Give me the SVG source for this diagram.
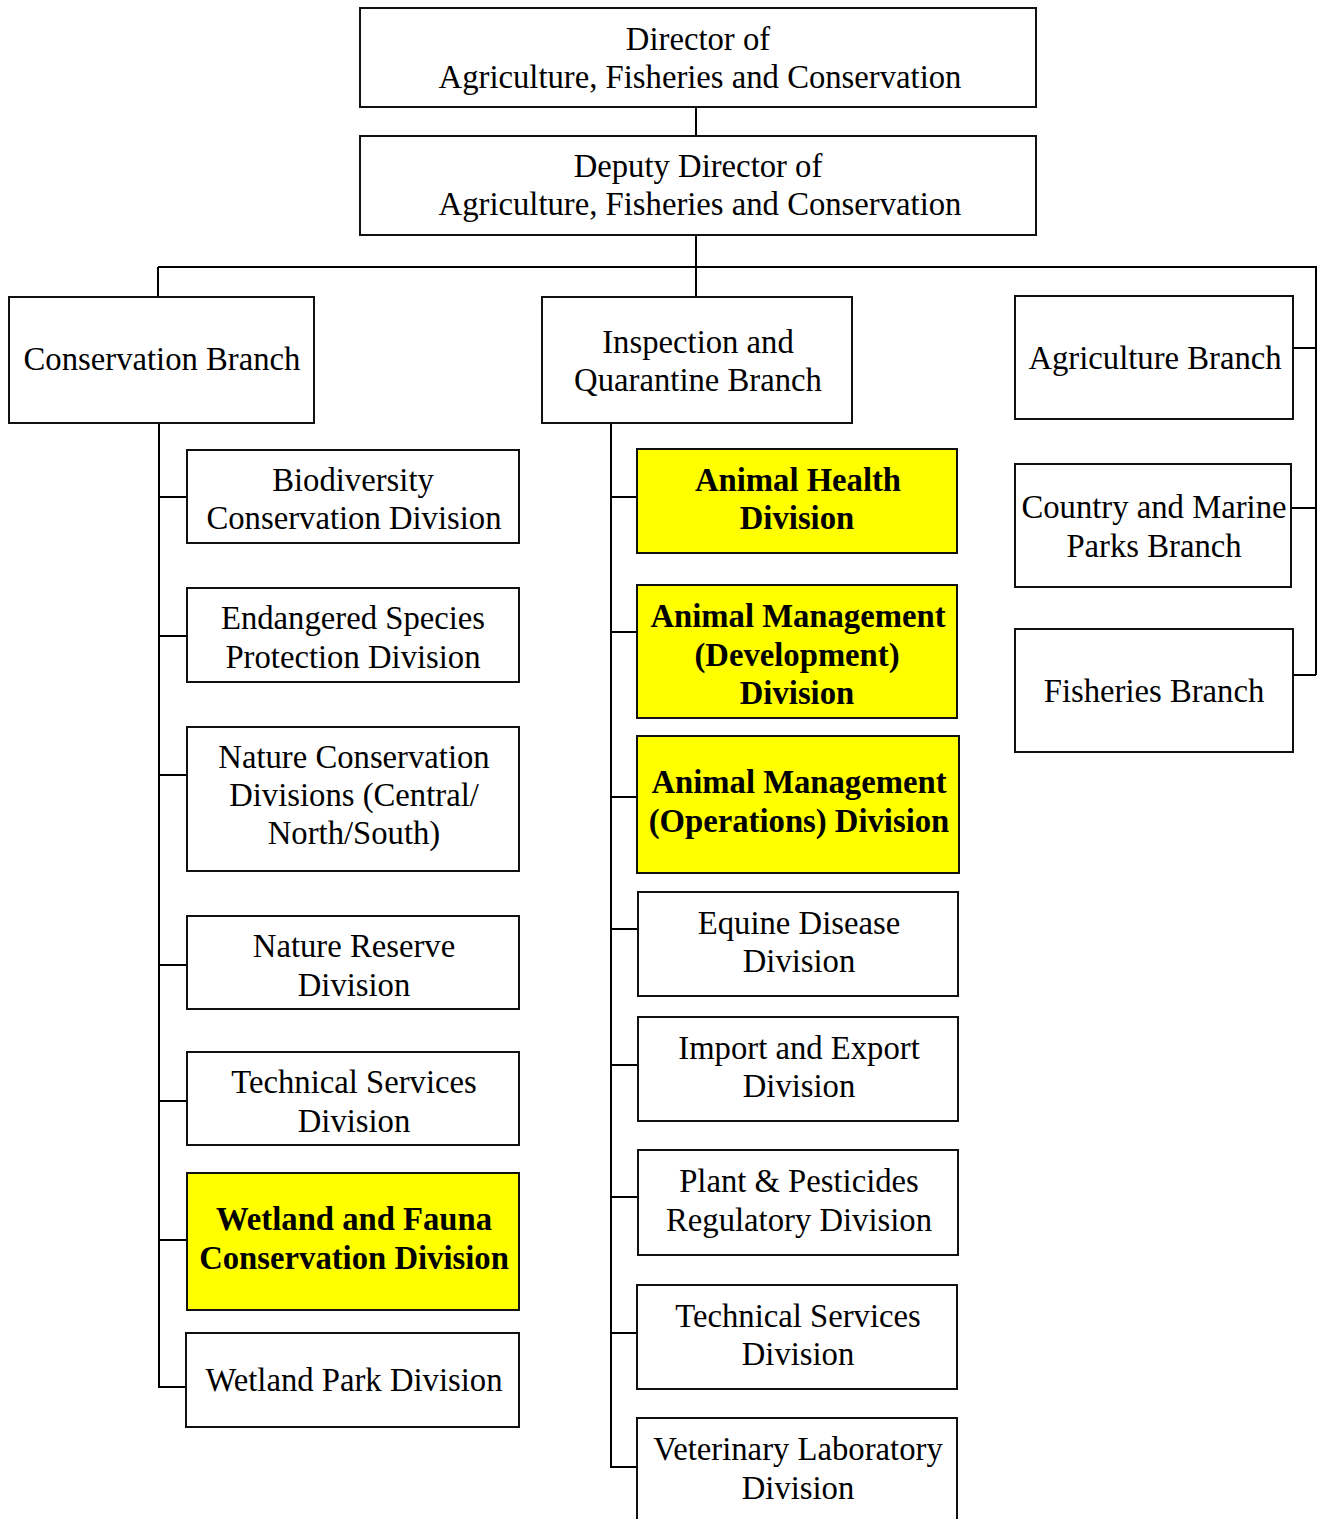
<svg xmlns="http://www.w3.org/2000/svg" width="1319" height="1519" viewBox="0 0 1319 1519">
<style>
.box{fill:#fff;stroke:#111;stroke-width:2}
.hl{fill:#ffff00;stroke:#111;stroke-width:2}
.t{font-family:"Liberation Serif","Times New Roman",serif;font-size:32.7px;fill:#000;text-anchor:middle}
.b{font-weight:bold}
.c{fill:none;stroke:#000;stroke-width:2}
</style>
<rect width="1319" height="1519" fill="#fff"/>
<g id="connectors">
<path class="c" d="M696 107V136M696 235V297M158 267H1316V675M158 267V297"/>
<path class="c" d="M1293 348H1316M1290 508H1316M1293 675H1316"/>
<path class="c" d="M159 423V1387H186M159 497H187M159 636H187M159 775H187M159 965H187M159 1101H187M159 1240H187"/>
<path class="c" d="M611 423V1467H637M611 497H637M611 632H637M611 797H637M611 929H637M611 1065H637M611 1197H637M611 1333H637"/>
</g>
<g id="director"><rect class="box" x="360" y="8" width="676" height="99"/>
<text class="t" x="698" y="50">Director of</text><text class="t" x="700" y="88">Agriculture, Fisheries and Conservation</text></g>
<g id="deputy"><rect class="box" x="360" y="136" width="676" height="99"/>
<text class="t" x="698" y="177">Deputy Director of</text><text class="t" x="700" y="215">Agriculture, Fisheries and Conservation</text></g>
<g id="conservation-branch"><rect class="box" x="9" y="297" width="305" height="126"/>
<text class="t" x="162" y="370">Conservation Branch</text></g>
<g id="inspection-branch"><rect class="box" x="542" y="297" width="310" height="126"/>
<text class="t" x="698" y="353">Inspection and</text><text class="t" x="698" y="391">Quarantine Branch</text></g>
<g id="agriculture-branch"><rect class="box" x="1015" y="296" width="278" height="123"/>
<text class="t" x="1155" y="369">Agriculture Branch</text></g>
<g id="country-branch"><rect class="box" x="1015" y="464" width="276" height="123"/>
<text class="t" x="1154" y="518">Country and Marine</text><text class="t" x="1154" y="557">Parks Branch</text></g>
<g id="fisheries-branch"><rect class="box" x="1015" y="629" width="278" height="123"/>
<text class="t" x="1154" y="702">Fisheries Branch</text></g>
<g id="biodiversity"><rect class="box" x="187" y="450" width="332" height="93"/>
<text class="t" x="353" y="491">Biodiversity</text><text class="t" x="354" y="529">Conservation Division</text></g>
<g id="endangered"><rect class="box" x="187" y="588" width="332" height="94"/>
<text class="t" x="353" y="629">Endangered Species</text><text class="t" x="353" y="668">Protection Division</text></g>
<g id="nature-conservation"><rect class="box" x="187" y="727" width="332" height="144"/>
<text class="t" x="354" y="768">Nature Conservation</text><text class="t" x="354" y="806">Divisions (Central/</text><text class="t" x="354" y="844">North/South)</text></g>
<g id="nature-reserve"><rect class="box" x="187" y="916" width="332" height="93"/>
<text class="t" x="354" y="957">Nature Reserve</text><text class="t" x="354" y="996">Division</text></g>
<g id="technical-services-c"><rect class="box" x="187" y="1052" width="332" height="93"/>
<text class="t" x="354" y="1093">Technical Services</text><text class="t" x="354" y="1132">Division</text></g>
<g id="wetland-fauna"><rect class="hl" x="187" y="1173" width="332" height="137"/>
<text class="t b" x="354" y="1230">Wetland and Fauna</text><text class="t b" x="354" y="1269">Conservation Division</text></g>
<g id="wetland-park"><rect class="box" x="186" y="1333" width="333" height="94"/>
<text class="t" x="354" y="1391">Wetland Park Division</text></g>
<g id="animal-health"><rect class="hl" x="637" y="449" width="320" height="104"/>
<text class="t b" x="798" y="491">Animal Health</text><text class="t b" x="797" y="529">Division</text></g>
<g id="animal-dev"><rect class="hl" x="637" y="585" width="320" height="133"/>
<text class="t b" x="798" y="627">Animal Management</text><text class="t b" x="797" y="666">(Development)</text><text class="t b" x="797" y="704">Division</text></g>
<g id="animal-ops"><rect class="hl" x="637" y="736" width="322" height="137"/>
<text class="t b" x="799" y="793">Animal Management</text><text class="t b" x="799" y="832">(Operations) Division</text></g>
<g id="equine"><rect class="box" x="638" y="892" width="320" height="104"/>
<text class="t" x="799" y="934">Equine Disease</text><text class="t" x="799" y="972">Division</text></g>
<g id="import-export"><rect class="box" x="638" y="1017" width="320" height="104"/>
<text class="t" x="799" y="1059">Import and Export</text><text class="t" x="799" y="1097">Division</text></g>
<g id="plant-pesticides"><rect class="box" x="638" y="1150" width="320" height="105"/>
<text class="t" x="799" y="1192">Plant &amp; Pesticides</text><text class="t" x="799" y="1231">Regulatory Division</text></g>
<g id="technical-services-i"><rect class="box" x="637" y="1285" width="320" height="104"/>
<text class="t" x="798" y="1327">Technical Services</text><text class="t" x="798" y="1365">Division</text></g>
<g id="veterinary"><rect class="box" x="637" y="1418" width="320" height="110"/>
<text class="t" x="798" y="1460">Veterinary Laboratory</text><text class="t" x="798" y="1499">Division</text></g>
</svg>
